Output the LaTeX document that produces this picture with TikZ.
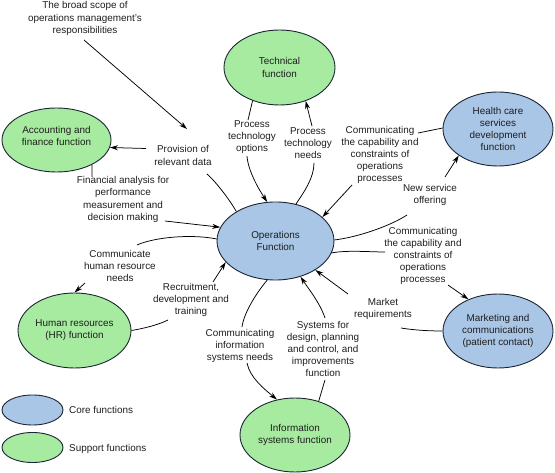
\documentclass[tikz,border=0pt]{standalone}
\usepackage{fontspec}
\setmainfont{Liberation Sans}
\usetikzlibrary{arrows.meta,shapes.geometric}
\definecolor{coreblue}{HTML}{A9C6E6}
\definecolor{supgreen}{HTML}{A6EBA0}
\definecolor{edgecol}{HTML}{1C2533}
\definecolor{txt}{HTML}{1E1E1E}
\begin{document}
\begin{tikzpicture}[x=1pt,y=-1pt,
  lbl/.style={align=center, inner sep=0pt, font=\fontsize{9.9}{12.2}\selectfont, text=txt},
  fn/.style={ellipse, draw=edgecol, line width=0.9pt, inner sep=0pt},
  core/.style={fn, fill=coreblue},
  sup/.style={fn, fill=supgreen},
  conn/.style={draw=black, line width=0.75pt},
  arr/.style={conn, -{Stealth[length=8pt,width=5pt,inset=2.5pt]}},
]
\useasboundingbox (0,0) rectangle (555,473);

% function ellipses
\node[core, minimum width=117pt, minimum height=78pt,
  label={[lbl]center:{Operations\\Function}}] (ops) at (275.5,241) {};
\node[sup, minimum width=111pt, minimum height=75pt,
  label={[lbl]center:{Technical\\function}}] (tech) at (279.5,67.5) {};
\node[sup, minimum width=109pt, minimum height=64pt,
  label={[lbl,yshift=4pt]center:{Accounting and\\finance function}}] (acc) at (56.5,140) {};
\node[core, minimum width=110pt, minimum height=74pt,
  label={[lbl]center:{Health care\\services\\development\\function}}] (hc) at (498,129) {};
\node[sup, minimum width=113pt, minimum height=75pt,
  label={[lbl]center:{Human resources\\(HR) function}}] (hr) at (74.5,330.5) {};
\node[core, minimum width=110pt, minimum height=74pt,
  label={[lbl]center:{Marketing and\\communications\\(patient contact)}}] (mkt) at (498,331) {};
\node[sup, minimum width=110pt, minimum height=74pt,
  label={[lbl]center:{Information\\systems function}}] (info) at (295,435) {};

% legend
\node[core, minimum width=61pt, minimum height=30pt] (lc) at (32.5,410) {};
\node[lbl, anchor=west] (lct) at (69,410) {Core functions};
\node[sup, minimum width=61pt, minimum height=30pt] (ls) at (32.5,447.5) {};
\node[lbl, anchor=west] (lst) at (69,449) {Support functions};

% texts
\node[lbl] (t1) at (85,18.5) {The broad scope of\\operations management's\\responsibilities};
\coordinate (c1) at (187,129);
\node[lbl] (t2) at (183,155.5) {Provision of\\relevant data};
\node[lbl] (t3) at (123,199.5) {Financial analysis for\\performance\\measurement and\\decision making};
\node[lbl] (t4) at (252,137) {Process\\technology\\options};
\node[lbl] (t5) at (308,143) {Process\\technology\\needs};
\node[lbl] (t6) at (380,155) {Communicating\\the capability and\\constraints of\\operations\\processes};
\node[lbl] (t7) at (430,195) {New service\\offering};
\node[lbl] (t8) at (423,256) {Communicating\\the capability and\\constraints of\\operations\\processes};
\node[lbl] (t9) at (383,309) {Market\\requirements};
\node[lbl] (t10) at (323,349) {Systems for\\design, planning\\and control, and\\improvements\\function};
\node[lbl] (t11) at (240,346) {Communicating\\information\\systems needs};
\node[lbl] (t12) at (120,266) {Communicate\\human resource\\needs};
\node[lbl] (t13) at (191,300) {Recruitment,\\development and\\training};

% connectors
\draw[arr] ([shift={(-1,21.5)}]t1.center) -- (c1);
\draw[conn] (ops.143) .. controls +(-7,-12) and +(10,9) .. ([shift={(24,18.5)}]t2.center);
\draw[arr] ([shift={(-37,-7)}]t2.center) -- (acc.-8);
\draw[conn] (acc.-35) -- ([shift={(-31,-22.5)}]t3.center);
\draw[arr] ([shift={(42,21.5)}]t3.center) -- (ops.166);
\draw[conn] (tech.231) -- ([shift={(-4,-17)}]t4.center);
\draw[arr] ([shift={(-5,19)}]t4.center) .. controls +(1,15) and +(-8,-12) .. (ops.102);
\draw[conn] (ops.61) .. controls +(8,-12) and +(0,15) .. ([shift={(6,20)}]t5.center);
\draw[arr] ([shift={(4,-17)}]t5.center) -- (tech.-52);
\draw[conn] (hc.179) -- ([shift={(38,-22)}]t6.center);
\draw[arr] ([shift={(-28,30)}]t6.center) -- (ops.27);
\draw[conn] (ops.1) .. controls +(25,-3) and +(-15,10) .. ([shift={(-23,20)}]t7.center);
\draw[arr] ([shift={(15,-18)}]t7.center) -- (hc.-146);
\draw[conn] (ops.-12) .. controls +(15,-3) and +(-15,0) .. ([shift={(-38,-4)}]t8.center);
\draw[arr] ([shift={(25,29)}]t8.center) -- (mkt.133);
\draw[conn] (mkt.180) .. controls +(-15,0) and +(12,2) .. ([shift={(18,19)}]t9.center);
\draw[arr] ([shift={(-35,-15)}]t9.center) -- (ops.-36);
\draw[conn] (info.55) -- ([shift={(2,31)}]t10.center);
\draw[arr] ([shift={(2,-31)}]t10.center) .. controls +(-5,-15) and +(8,12) .. (ops.-55);
\draw[conn] (ops.-102) .. controls +(-10,12) and +(2,-15) .. ([shift={(2,-19)}]t11.center);
\draw[arr] ([shift={(7,17)}]t11.center) .. controls +(3,15) and +(-12,-10) .. (info.117);
\draw[conn] (ops.178) .. controls +(-25,-5) and +(18,-8) .. ([shift={(17,-21)}]t12.center);
\draw[arr] ([shift={(-35,17)}]t12.center) -- (hr.90);
\draw[conn] (hr.0) .. controls +(12,-2) and +(-10,5) .. ([shift={(-23,20)}]t13.center);
\draw[arr] ([shift={(22,-18)}]t13.center) -- (ops.-157);
\end{tikzpicture}
\end{document}
